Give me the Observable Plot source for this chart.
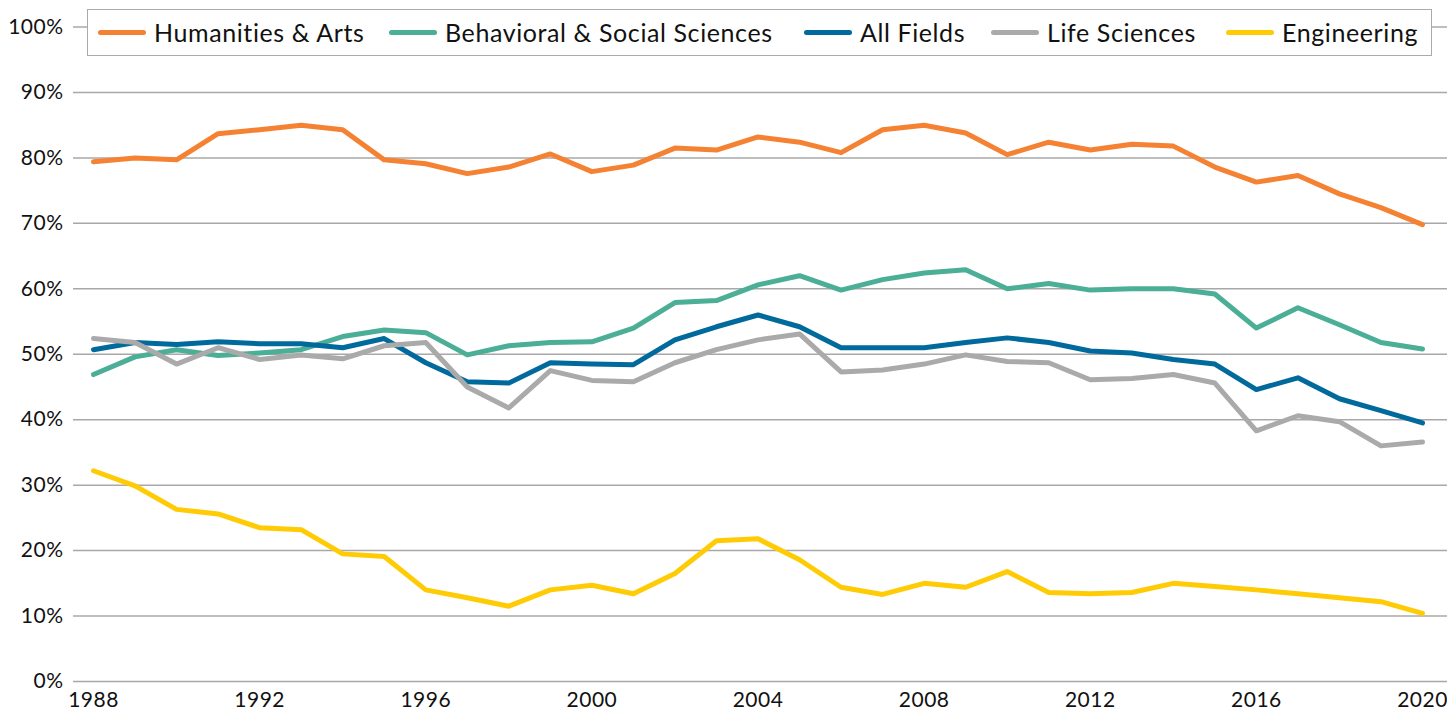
<!DOCTYPE html>
<html>
<head>
<meta charset="utf-8">
<script src="https://cdn.jsdelivr.net/npm/d3@7"></script>
<script src="https://cdn.jsdelivr.net/npm/@observablehq/plot@0.6"></script>
<style>
  html, body { margin: 0; padding: 0; background: #fff; }
  #wrap { position: relative; width: 1447px; height: 713px; font-family: Lato, "Open Sans", sans-serif; }
  #legend { position: absolute; left: 87px; top: 9px; width: 1345px; height: 47px; border: 1.5px solid #aaa; background: #fff; box-sizing: border-box; }
  .item { position: absolute; top: 0; height: 44px; display: flex; align-items: center; font-size: 25px; letter-spacing: 0.6px; color: #111; white-space: nowrap; }
  .sw { display: inline-block; width: 48px; height: 5px; border-radius: 3px; margin-right: 8px; }
  svg text { letter-spacing: 0.5px; }
</style>
</head>
<body>
<div id="wrap"><div id="chart"></div><div id="legend"></div></div>
<script>
const years = [1988,1989,1990,1991,1992,1993,1994,1995,1996,1997,1998,1999,2000,2001,2002,2003,2004,2005,2006,2007,2008,2009,2010,2011,2012,2013,2014,2015,2016,2017,2018,2019,2020];
const seriesNames = ["Humanities & Arts","Behavioral & Social Sciences","All Fields","Life Sciences","Engineering"];
const seriesColors = ["#F58233","#4BAE96","#006A9C","#AAAAAA","#FFCB05"];
const humanities = [79.4,80.0,79.7,83.7,84.3,85.0,84.3,79.7,79.1,77.6,78.6,80.6,77.9,78.9,81.5,81.2,83.2,82.4,80.8,84.3,85.0,83.8,80.5,82.4,81.2,82.1,81.8,78.6,76.3,77.3,74.5,72.4,69.8];
const behavioral = [46.9,49.6,50.7,49.8,50.2,50.7,52.7,53.7,53.3,49.9,51.3,51.8,51.9,54.0,57.9,58.2,60.6,62.0,59.8,61.4,62.4,62.9,60.0,60.8,59.8,60.0,60.0,59.2,54.0,57.1,54.5,51.8,50.8];
const allFields = [50.7,51.8,51.5,51.9,51.6,51.6,51.0,52.4,48.7,45.8,45.6,48.7,48.5,48.4,52.2,54.2,56.0,54.2,51.0,51.0,51.0,51.8,52.5,51.8,50.5,50.2,49.2,48.5,44.6,46.4,43.2,41.4,39.5];
const lifeSciences = [52.4,51.8,48.5,51.0,49.2,49.9,49.3,51.3,51.8,45.0,41.8,47.5,46.0,45.8,48.7,50.7,52.2,53.1,47.3,47.6,48.5,49.9,48.9,48.7,46.1,46.3,46.9,45.6,38.3,40.6,39.7,36.0,36.6];
const engineering = [32.2,29.9,26.3,25.6,23.5,23.2,19.5,19.1,14.0,12.8,11.5,14.0,14.7,13.4,16.5,21.5,21.8,18.6,14.4,13.3,15.0,14.4,16.8,13.6,13.4,13.6,15.0,14.5,14.0,13.4,12.8,12.2,10.4];
const xTicks = [1988,1992,1996,2000,2004,2008,2012,2016,2020];
const yTicks = [0,10,20,30,40,50,60,70,80,90,100];

const seriesValues = [humanities, behavioral, allFields, lifeSciences, engineering];
const data = [];
seriesNames.forEach((name, i) => {
  years.forEach((yr, j) => data.push({series: name, year: yr, value: seriesValues[i][j]}));
});

const chart = Plot.plot({
  width: 1447,
  height: 713,
  marginLeft: 93,
  marginRight: 25,
  marginTop: 26.5,
  marginBottom: 32,
  style: {fontFamily: "Lato, 'Open Sans', sans-serif", fontSize: "21px", color: "#111", background: "#fff"},
  x: {domain: [1988, 2020], label: null},
  y: {domain: [0, 100], label: null},
  color: {domain: seriesNames, range: seriesColors},
  marks: [
    Plot.ruleY(yTicks, {stroke: "#a8a8a8", strokeWidth: 1.5, strokeOpacity: 1, insetLeft: -20, insetRight: -25}),
    Plot.axisX({ticks: xTicks, tickSize: 0, tickPadding: 11, tickFormat: d => String(d), fontSize: 21, label: null}),
    Plot.axisY({ticks: yTicks, tickSize: 0, tickPadding: 30, tickFormat: d => d + "%", fontSize: 21, label: null}),
    Plot.line(data, {x: "year", y: "value", z: "series", stroke: "series", strokeWidth: 5, strokeLinejoin: "round", strokeLinecap: "round"})
  ]
});
document.getElementById("chart").appendChild(chart);

const legendX = [10, 301, 716, 903, 1138];
const legend = document.getElementById("legend");
seriesNames.forEach((name, i) => {
  const it = document.createElement("div");
  it.className = "item";
  it.style.left = legendX[i] + "px";
  const sw = document.createElement("span");
  sw.className = "sw";
  sw.style.background = seriesColors[i];
  it.appendChild(sw);
  it.appendChild(document.createTextNode(name));
  legend.appendChild(it);
});
</script>
</body>
</html>
